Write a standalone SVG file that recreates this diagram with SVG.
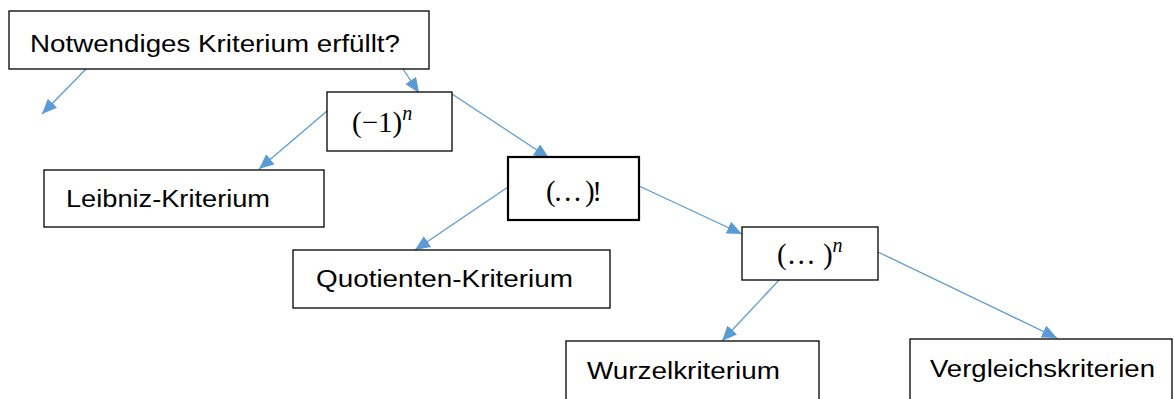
<svg xmlns="http://www.w3.org/2000/svg" width="1174" height="399" viewBox="0 0 1174 399">
<style>
.box{fill:#fff;stroke:#000;stroke-width:1.3}
.thick{stroke-width:2.2}
.lbl{font-family:"Liberation Sans",Arial,sans-serif;font-size:23px;fill:#000}
.math{font-family:"Liberation Serif","DejaVu Serif",serif;font-size:29px;fill:#000}
.sup{font-style:italic;font-size:20px}
.conn{stroke:#5B9BD5;stroke-width:1.3;fill:none;marker-end:url(#ah)}
</style>
<defs>
<marker id="ah" markerUnits="userSpaceOnUse" markerWidth="16" markerHeight="14" refX="15" refY="6.5" orient="auto">
<path d="M0,0 L15,6.5 L0,13 z" fill="#5B9BD5"/>
</marker>
</defs>
<rect width="1174" height="399" fill="#fff"/>
<g id="connectors">
<line class="conn" x1="86" y1="69" x2="42" y2="114"/>
<line class="conn" x1="403" y1="69" x2="419" y2="93"/>
<line class="conn" x1="327" y1="111" x2="259" y2="169"/>
<line class="conn" x1="452" y1="94" x2="549" y2="158"/>
<line class="conn" x1="508" y1="187" x2="415" y2="250"/>
<line class="conn" x1="639" y1="186" x2="742" y2="234"/>
<line class="conn" x1="780" y1="279" x2="722" y2="341"/>
<line class="conn" x1="878" y1="252" x2="1057" y2="338"/>
</g>
<g id="n_notwendig">
<rect class="box" x="9" y="11" width="420" height="58"/>
<text class="lbl" x="30" y="52" textLength="370" lengthAdjust="spacingAndGlyphs">Notwendiges Kriterium erfüllt?</text>
</g>
<g id="n_minus1n">
<rect class="box" x="327" y="92" width="125" height="59"/>
<text class="math" x="352" y="132">(−1)<tspan class="sup" dy="-12">n</tspan></text>
</g>
<g id="n_leibniz">
<rect class="box" x="44" y="170" width="280" height="57"/>
<text class="lbl" x="66" y="207" textLength="204" lengthAdjust="spacingAndGlyphs">Leibniz-Kriterium</text>
</g>
<g id="n_fact">
<rect class="box thick" x="508" y="157" width="131" height="63"/>
<text class="math" x="546" y="201" textLength="56" lengthAdjust="spacing">(… )!</text>
</g>
<g id="n_quotient">
<rect class="box" x="293" y="250" width="317" height="58"/>
<text class="lbl" x="316" y="287" textLength="257" lengthAdjust="spacingAndGlyphs">Quotienten-Kriterium</text>
</g>
<g id="n_pown">
<rect class="box" x="742" y="227" width="136" height="53"/>
<text class="math" x="777" y="264">(… )<tspan class="sup" dy="-12">n</tspan></text>
</g>
<g id="n_wurzel">
<rect class="box" x="566" y="341" width="253" height="62"/>
<text class="lbl" x="587" y="379" textLength="193" lengthAdjust="spacingAndGlyphs">Wurzelkriterium</text>
</g>
<g id="n_vergleich">
<rect class="box" x="910" y="339" width="262" height="64"/>
<text class="lbl" x="930" y="377" textLength="225" lengthAdjust="spacingAndGlyphs">Vergleichskriterien</text>
</g>
</svg>
